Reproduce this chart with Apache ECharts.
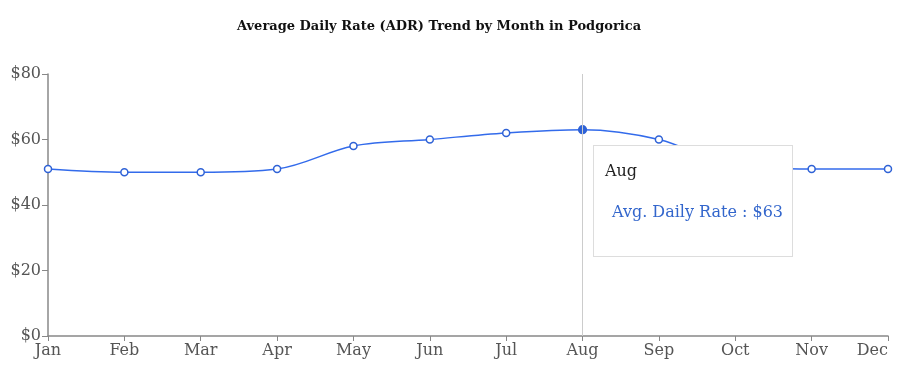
<!DOCTYPE html>
<html><head><meta charset="utf-8">
<script src="https://cdn.jsdelivr.net/npm/echarts@6/dist/echarts.min.js"></script>
<style>html,body{margin:0;padding:0;background:#fff}#c{width:900px;height:379px}</style>
</head><body><div id="c"></div>
<script>
const months = ['Jan','Feb','Mar','Apr','May','Jun','Jul','Aug','Sep','Oct','Nov','Dec'];
const adr = [51, 50, 50, 51, 58, 60, 62, 63, 60, 52, 51, 51];
const yTicks = [0, 20, 40, 60, 80];
const seriesName = 'Avg. Daily Rate';
const titleText = 'Average Daily Rate (ADR) Trend by Month in Podgorica';

const font = "'DejaVu Serif', serif";
const chart = echarts.init(document.getElementById('c'));
chart.setOption({
  animation: false,
  title: {
    text: titleText, left: 232, top: 15,
    textStyle: {fontFamily: font, fontSize: 13, fontWeight: 'bold', color: '#111'}
  },
  grid: {left: 48, right: 12, top: 74, bottom: 43, outerBoundsMode: 'none', containLabel: false},
  tooltip: {
    trigger: 'axis',
    alwaysShowContent: true,
    position: [593, 145],
    backgroundColor: '#fff',
    borderColor: '#ddd',
    borderWidth: 1,
    padding: 0,
    extraCssText: 'box-shadow:none;border-radius:0;',
    axisPointer: {type: 'line', lineStyle: {color: '#ccc', width: 1, type: 'solid'}},
    formatter: function (p) {
      const d = p[0];
      return '<div style="width:198px;height:110px;font-family:' + font.replace(/'/g, '') + ';">' +
        '<div style="padding:14px 0 0 11px;font-size:16px;color:#222;">' + d.name + '</div>' +
        '<div style="padding:20px 0 0 18px;font-size:16px;color:#3366cc;">' + d.seriesName + ' : $' + d.value + '</div></div>';
    }
  },
  xAxis: {
    type: 'category', data: months, boundaryGap: false,
    axisLine: {lineStyle: {color: '#888', width: 1.5}},
    axisTick: {show: true, alignWithLabel: true, length: 5, lineStyle: {color: '#888'}},
    axisLabel: {fontFamily: font, fontSize: 16, color: '#555', margin: 7, interval: 0, alignMaxLabel: 'right'},
    splitLine: {show: false}
  },
  yAxis: {
    type: 'value', min: yTicks[0], max: yTicks[yTicks.length - 1], interval: 20,
    axisLine: {show: true, lineStyle: {color: '#888', width: 1.5}},
    axisTick: {show: true, length: 6, lineStyle: {color: '#888'}},
    axisLabel: {fontFamily: font, fontSize: 16, color: '#555', margin: 7, formatter: v => '$' + v},
    splitLine: {show: false}
  },
  series: [{
    name: seriesName, type: 'line', data: adr, smooth: 0.35,
    symbol: 'circle', symbolSize: 7,
    itemStyle: {color: '#fff', borderColor: '#2f62d6', borderWidth: 1.5},
    lineStyle: {color: '#2f62d6', width: 1.5},
    emphasis: {itemStyle: {color: '#2f62d6', borderColor: '#2f62d6'}}
  }]
});
chart.dispatchAction({type: 'showTip', seriesIndex: 0, dataIndex: 7});
chart.dispatchAction({type: 'highlight', seriesIndex: 0, dataIndex: 7});
</script></body></html>
